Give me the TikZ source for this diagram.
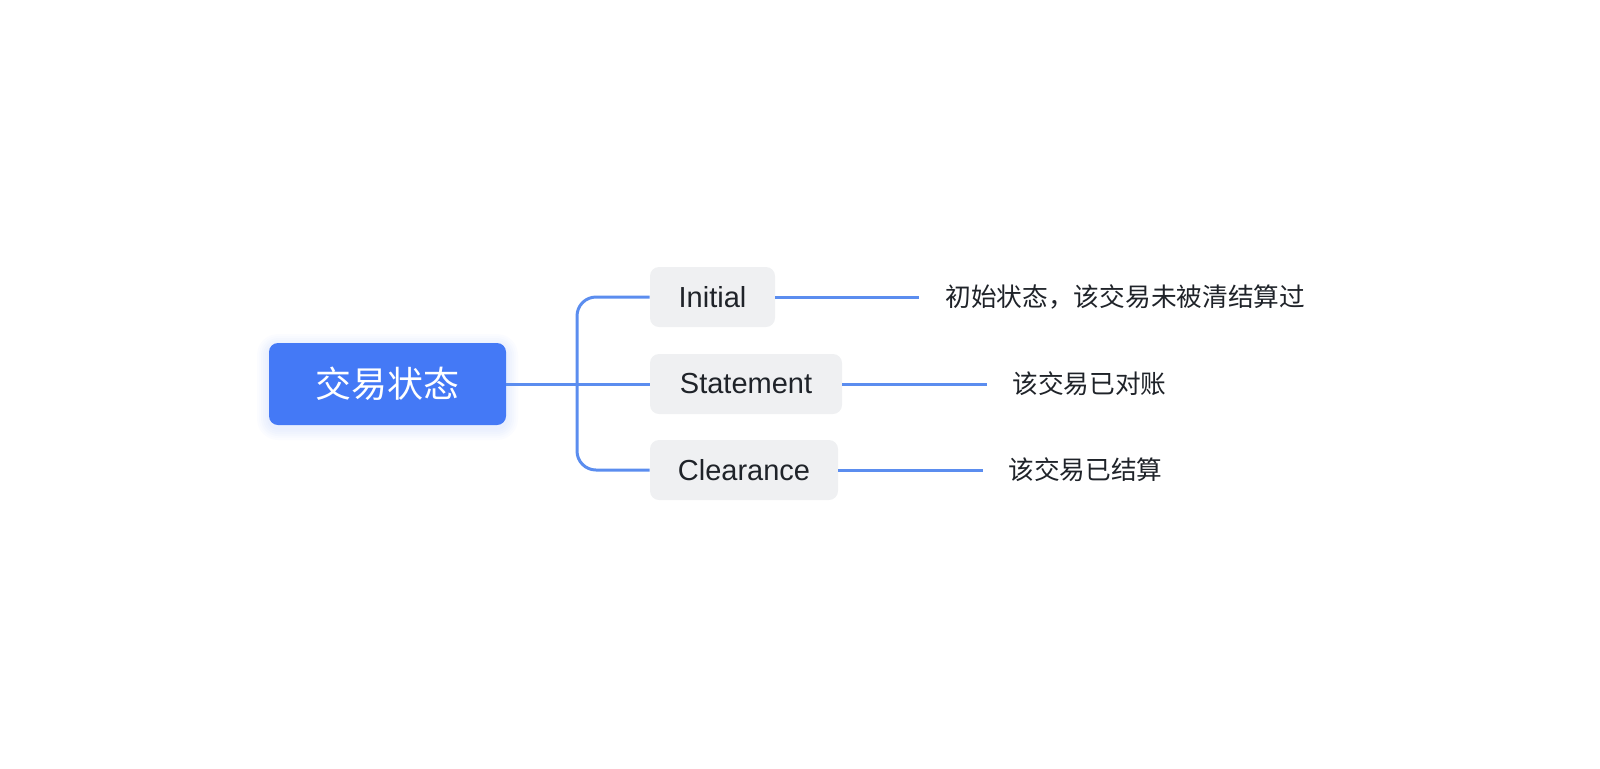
\documentclass[tikz,border=0pt]{standalone}
\usepackage{fontspec}
\setmainfont{Liberation Sans}
\newfontfamily\cjk{Noto Sans CJK SC}
\definecolor{rootblue}{HTML}{4479F6}
\definecolor{linkblue}{HTML}{5B8DEF}
\definecolor{boxgray}{HTML}{EFF0F2}
\definecolor{inkdark}{HTML}{1F2329}
\tikzset{
  rootbox/.style={fill=rootblue, rounded corners=4.5pt, minimum width=118.5pt,
    minimum height=41pt, text=white, font=\cjk\fontsize{18pt}{20pt}\selectfont},
  statebox/.style={fill=boxgray, rounded corners=4.5pt, minimum height=30pt,
    text=inkdark, font=\fontsize{14.5pt}{17pt}\selectfont},
  desc/.style={anchor=west, inner sep=0pt, text=inkdark,
    font=\cjk\fontsize{12.85pt}{15pt}\selectfont},
  link/.style={draw=linkblue, line width=1.5pt}
}
\begin{document}
\begin{tikzpicture}[x=0.5pt,y=-0.5pt]
\useasboundingbox (0,0) rectangle (1600,768);
\coordinate (fork) at (577,384);
\coordinate (initend) at (919,297);
\coordinate (stmtend) at (987,384);
\coordinate (clearend) at (983,470);

% soft blue glow under the root box
\foreach \g in {1,...,6}{
  \pgfmathsetmacro\rad{4.5+\g}
  \fill[rootblue, opacity=0.02, rounded corners=\rad pt]
    (269-2*\g,346-2*\g) rectangle (506+2*\g,428+2*\g);
}
\node[rootbox] (root) at (387.5,384) {交易状态};
\node[statebox, minimum width=62.5pt] (initial) at (712.5,297) {Initial};
\node[statebox, minimum width=96pt] (statement) at (746,384) {Statement};
\node[statebox, minimum width=94pt] (clearance) at (744,470) {Clearance};

\draw[link] (root.east) -- (statement.west);
\draw[link, rounded corners=9.5pt] (initial.west) -| (fork) |- (clearance.west);

\draw[link] (initial.east) -- (initend);
\draw[link] (statement.east) -- (stmtend);
\draw[link] (clearance.east) -- (clearend);
\node[desc] (initdesc) at (945,297) {初始状态，该交易未被清结算过};
\node[desc] (stmtdesc) at (1012,384) {该交易已对账};
\node[desc] (cleardesc) at (1008,470) {该交易已结算};
\end{tikzpicture}
\end{document}
